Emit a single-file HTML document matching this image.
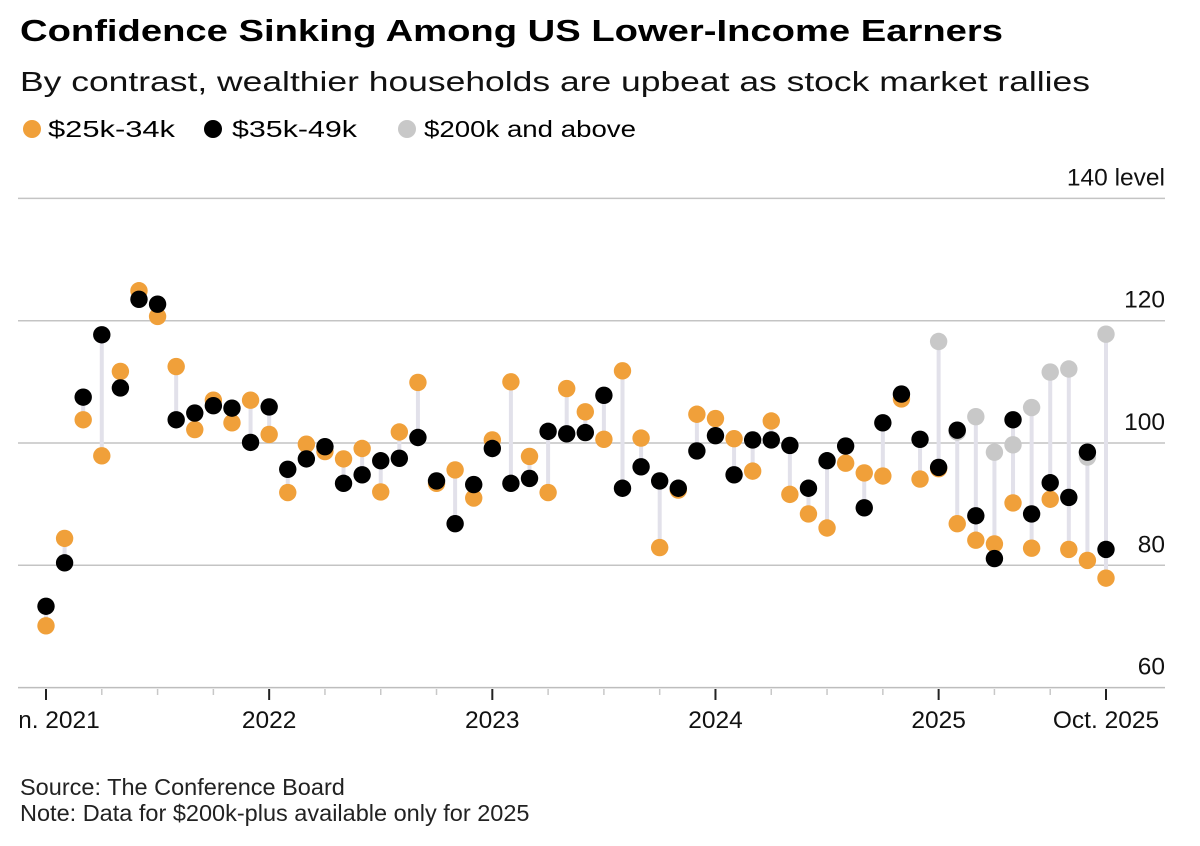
<!DOCTYPE html>
<html><head><meta charset="utf-8"><style>
body{margin:0;background:#fff;}
svg{display:block;font-family:"Liberation Sans",Arial,sans-serif;}
</style></head><body>
<svg id="chart" width="1200" height="846" viewBox="0 0 1200 846">
<text x="20" y="41" font-size="31" font-weight="bold" fill="#000" textLength="983" lengthAdjust="spacingAndGlyphs">Confidence Sinking Among US Lower-Income Earners</text>
<text x="20" y="91" font-size="28" fill="#111" textLength="1070" lengthAdjust="spacingAndGlyphs">By contrast, wealthier households are upbeat as stock market rallies</text>
<g>
<circle cx="32" cy="129" r="9" fill="#f0a03a"/>
<text x="48" y="137" font-size="23" textLength="127" lengthAdjust="spacingAndGlyphs">$25k-34k</text>
<circle cx="213" cy="129" r="9" fill="#000"/>
<text x="232" y="137" font-size="23" textLength="125" lengthAdjust="spacingAndGlyphs">$35k-49k</text>
<circle cx="407" cy="129" r="9" fill="#c8c8c8"/>
<text x="424" y="137" font-size="23" textLength="212" lengthAdjust="spacingAndGlyphs">$200k and above</text>
</g>
<g id="grid"></g>
<g id="xaxis"></g>
<g id="marks"></g>
<text x="20" y="795" font-size="23.5" fill="#222">Source: The Conference Board</text>
<text x="20" y="821" font-size="23.5" fill="#222">Note: Data for $200k-plus available only for 2025</text>
</svg>
<script>
const yTicks=[60,80,100,120,140];
const xLabels=["Jan. 2021","2022","2023","2024","2025","Oct. 2025"];
const xLabelMonths=[0,12,24,36,48,57];
const low=[70.1,84.4,103.8,97.9,111.7,124.9,120.7,112.5,102.2,107.0,103.3,107.0,101.4,91.9,99.8,98.6,97.4,99.1,92.0,101.8,109.9,93.4,95.6,91.0,100.5,110.0,97.8,91.9,108.9,105.1,100.6,111.8,100.8,82.9,92.3,104.7,104.0,100.7,95.4,103.6,91.6,88.4,86.1,96.7,95.1,94.6,107.2,94.1,95.8,86.8,84.1,83.5,90.2,82.8,90.8,82.6,80.8,77.9];
const mid=[73.3,80.4,107.5,117.7,109.0,123.5,122.7,103.8,104.9,106.1,105.7,100.1,105.9,95.7,97.4,99.4,93.4,94.8,97.1,97.5,100.9,93.8,86.8,93.2,99.1,93.4,94.2,101.9,101.5,101.7,107.8,92.6,96.1,93.8,92.6,98.7,101.2,94.8,100.5,100.5,99.6,92.6,97.1,99.5,89.4,103.3,108.0,100.6,96.0,102.1,88.1,81.1,103.8,88.4,93.5,91.1,98.5,82.6];
const highStart=48;
const high=[116.6,101.8,104.3,98.5,99.7,105.8,111.6,112.1,97.7,117.8];
const NS="http://www.w3.org/2000/svg";
function xs(m){return 46+m*(1106-46)/57;}
function ys(v){return 443-(v-100)*6.115;}
function mk(tag,attrs,parent){const e=document.createElementNS(NS,tag);for(const k in attrs)e.setAttribute(k,attrs[k]);parent.appendChild(e);return e;}
const grid=document.getElementById('grid'),xa=document.getElementById('xaxis'),marks=document.getElementById('marks');
yTicks.forEach(v=>{
  const l=mk('line',{x1:18,x2:1165,y1:ys(v),y2:ys(v),stroke:v===60?'#bdbdbd':'#c4c4c4','stroke-width':1.5},grid);
  
  
  const t=mk('text',{x:1165,y:ys(v)-13,'font-size':24.5,'text-anchor':'end',fill:'#111'},grid);
  t.textContent=v===140?'140 level':String(v);
  
  
});
for(let m=0;m<=57;m+=3){
  const big=xLabelMonths.indexOf(m)>=0;
  const tk=mk('line',{x1:xs(m),x2:xs(m),y1:689,y2:big?700:695,stroke:big?'#222':'#c8c8c8','stroke-width':big?2:1.5},xa);
  
  
}
const clip=mk('clipPath',{id:'xc'},xa);mk('rect',{x:20,y:700,width:1180,height:40},clip);
xLabels.forEach((s,i)=>{
  const t=mk('text',{x:xs(xLabelMonths[i]),y:728,'font-size':24.5,'text-anchor':'middle',fill:'#111','clip-path':'url(#xc)'},xa);
  t.textContent=s;
  
  
});
low.forEach((v,i)=>{
  const vals=[v,mid[i]];const h=i>=highStart?high[i-highStart]:null;if(h!=null)vals.push(h);
  const ln=mk('line',{x1:xs(i),x2:xs(i),y1:ys(Math.min(...vals)),y2:ys(Math.max(...vals)),stroke:'#e2e1ea','stroke-width':4},marks);
  
  
});
high.forEach((v,j)=>{const c=mk('circle',{cx:xs(j+highStart),cy:ys(v),r:8.7,fill:'#c8c8c8'},marks);
  
  });
low.forEach((v,i)=>{const c=mk('circle',{cx:xs(i),cy:ys(v),r:8.7,fill:'#f0a03a'},marks);
  
  });
mid.forEach((v,i)=>{const c=mk('circle',{cx:xs(i),cy:ys(v),r:8.7,fill:'#000'},marks);
  
  });
</script>
</body></html>
